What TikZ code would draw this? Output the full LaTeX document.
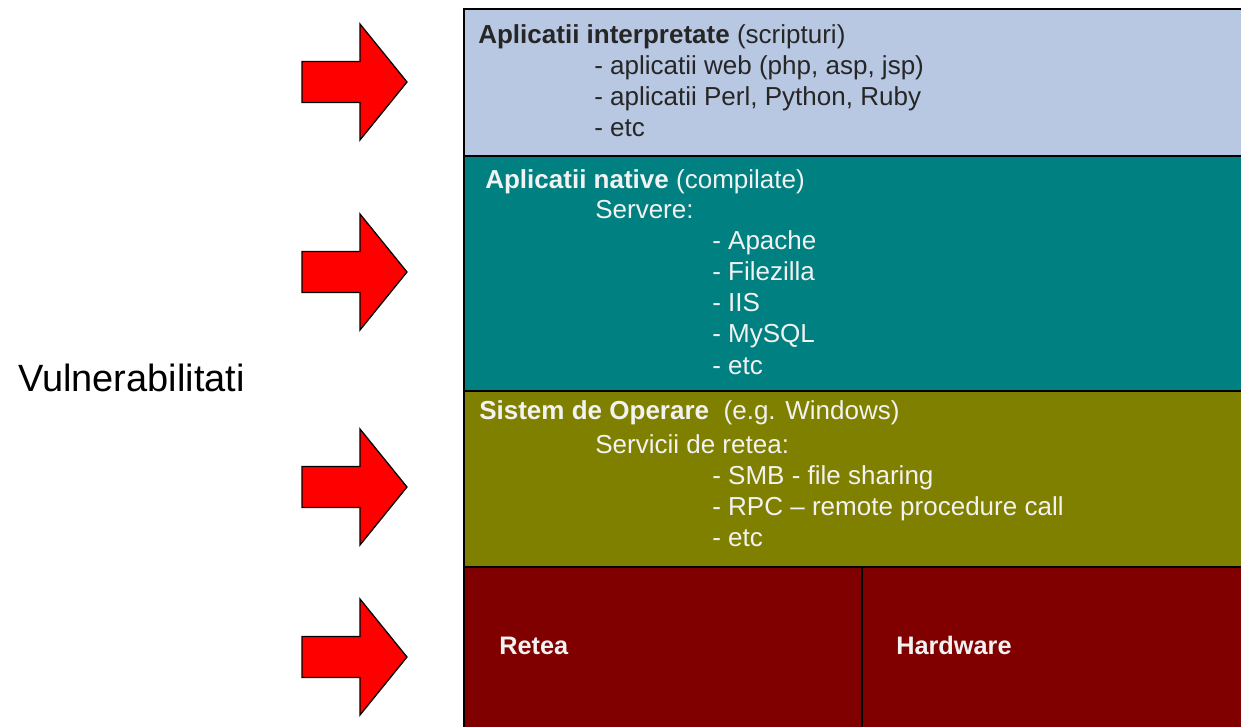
\documentclass[tikz,border=0pt]{standalone}
\usepackage{fontspec}
\setmainfont{Liberation Sans}
\definecolor{scriptblue}{RGB}{184,200,226}
\definecolor{nativeteal}{RGB}{0,128,128}
\definecolor{osolive}{RGB}{128,128,0}
\definecolor{netmaroon}{RGB}{128,0,0}
\definecolor{lighttext}{RGB}{242,242,242}
\tikzset{
  layer/.style={draw=black, line width=1.1pt},
  txt/.style={anchor=base west, inner sep=0pt, font=\fontsize{18.5}{22}\selectfont},
  redarrow/.style={draw=black, fill=red, line width=0.9pt, line join=miter}
}
\begin{document}
\begin{tikzpicture}[x=0.025cm, y=-0.025cm]
            \useasboundingbox (0,0) rectangle (1241,726);

            % layers
            \draw[layer, fill=scriptblue] (464,9) rectangle (1260,156);
            \draw[layer, fill=nativeteal] (464,156) rectangle (1260,391);
            \draw[layer, fill=osolive] (464,391) rectangle (1260,567);
            \draw[layer, fill=netmaroon] (464,567) rectangle (1260,740);
            \draw[layer] (862,567) -- (862,740);

            % arrows
            \foreach \yc in {82,272,487,657}
                \draw[redarrow] (302,\yc-20.5) -- (360,\yc-20.5) -- (360,\yc-58) -- (407,\yc)
                    -- (360,\yc+58) -- (360,\yc+20.5) -- (302,\yc+20.5) -- cycle;

            \node(vuln) at (18,378) [anchor=west, inner sep=0pt, font=\fontsize{27}{32}\selectfont] {Vulnerabilitati};

            % interpreted
            \node(interp) at (478,43) [txt, text=black!85] {\textbf{Aplicatii interpretate} (scripturi)};
            \node(interp1) at (594,74) [txt, text=black!85] {- aplicatii web (php, asp, jsp)};
            \node(interp2) at (594,105) [txt, text=black!85] {- aplicatii Perl, Python, Ruby};
            \node(interp3) at (594,136) [txt, text=black!85] {- etc};

            % native
            \node(native) at (485,188) [txt, text=lighttext] {\textbf{Aplicatii native} (compilate)};
            \node(servers) at (595,218) [txt, text=lighttext] {Servere:};
            \node(apache) at (712,249) [txt, text=lighttext] {- Apache};
            \node(filezilla) at (712,280) [txt, text=lighttext] {- Filezilla};
            \node(iis) at (712,311) [txt, text=lighttext] {- IIS};
            \node(mysql) at (712,342) [txt, text=lighttext] {- MySQL};
            \node(nativeetc) at (712,374) [txt, text=lighttext] {- etc};

            % operating system
            \node(os) at (479,419) [txt, text=lighttext] {\textbf{Sistem de Operare}\ \ (e.g. Windows)};
            \node(services) at (595,453) [txt, text=lighttext] {Servicii de retea:};
            \node(smb) at (712,484) [txt, text=lighttext] {- SMB - file sharing};
            \node(rpc) at (712,515) [txt, text=lighttext] {- RPC -- remote procedure call};
            \node(osetc) at (712,546) [txt, text=lighttext] {- etc};

            % bottom
            \node(net) at (499,654) [txt, text=lighttext, font=\bfseries\fontsize{18}{22}\selectfont] {Retea};
            \node(hw) at (896,654) [txt, text=lighttext, font=\bfseries\fontsize{18}{22}\selectfont] {Hardware};
        \end{tikzpicture}
\end{document}
